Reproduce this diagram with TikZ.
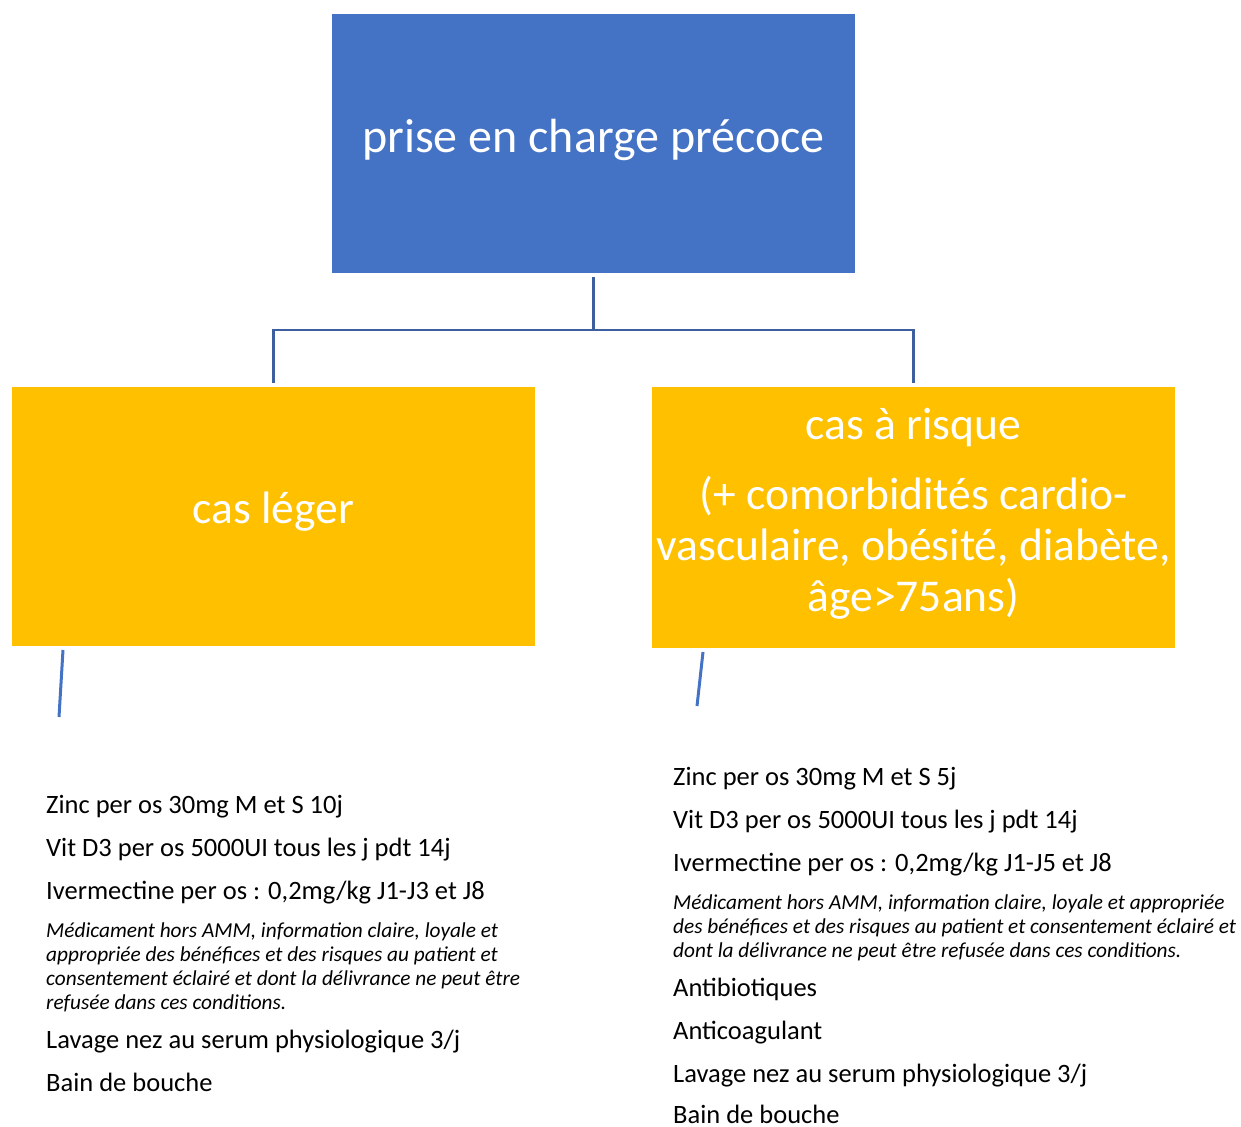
\documentclass[tikz,border=0pt]{standalone}
\usepackage{fontspec}
\setmainfont{Carlito}
\definecolor{boxblue}{HTML}{4472C4}
\definecolor{boxorange}{HTML}{FFC000}
\definecolor{connblue}{HTML}{3E5F9F}
\begin{document}
\begin{tikzpicture}[x=1pt,y=-1pt,
  box/.style={draw=none, inner sep=0pt, align=center, text=white},
  conn/.style={draw=connblue, line width=2.5pt},
  stub/.style={draw=boxblue, line width=3pt},
  item/.style={anchor=base west, inner sep=0pt, font=\fontsize{26.5}{32}\selectfont},
  note/.style={anchor=base west, inner sep=0pt, font=\fontsize{21.3}{24}\selectfont\itshape}]
\useasboundingbox (0,0) rectangle (1241,1126);
\node[box, fill=boxblue, minimum width=523pt, minimum height=259pt] (top) at (593.5,143.5) {};
\node[text=white, inner sep=0pt, anchor=base, font=\fontsize{48}{56}\selectfont] (toptext) at (top.center |- 0,153) {prise en charge précoce};
\node[box, fill=boxorange, minimum width=523pt, minimum height=259pt, font=\fontsize{45.5}{52}\selectfont] (left) at (273.5,516.5) {};
\node[text=white, inner sep=0pt, anchor=base, font=\fontsize{45.5}{52}\selectfont] (lefttext) at (left.center |- 0,523) {cas léger};
\node[box, fill=boxorange, minimum width=523pt, minimum height=261pt] (right) at (913.5,517.5) {};
\node[text=white, inner sep=0pt, align=center, anchor=center, font=\fontsize{45.5}{51}\selectfont] (righttext) at (913.5,514) {cas à risque\\[19pt](+ comorbidités cardio-\\vasculaire, obésité, diabète,\\âge>75ans)};
\draw[conn, shorten <=4pt, shorten >=4pt] (top.south) -- ++(0,57) -| (left.north);
\draw[conn, shorten >=4pt] (top.south) ++(0,57) -| (right.north);
\coordinate (ls1) at (63,650);
\coordinate (ls2) at (59,717);
\coordinate (rs1) at (703,652);
\coordinate (rs2) at (697,706);
\draw[stub] (ls1) -- (ls2);
\draw[stub] (rs1) -- (rs2);
% left list
\node[item] (l1) at (46,813) {Zinc per os 30mg M et S 10j};
\node[item] (l2) at (46,856) {Vit D3 per os 5000UI tous les j pdt 14j};
\node[item] (l3) at (46,899) {Ivermectine per os : 0,2mg/kg J1-J3 et J8};
\node[note] (l4) at (46,937) {Médicament hors AMM, information claire, loyale et};
\node[note] (l5) at (46,961) {appropriée des bénéfices et des risques au patient et};
\node[note] (l6) at (46,985) {consentement éclairé et dont la délivrance ne peut être};
\node[note] (l7) at (46,1009) {refusée dans ces conditions.};
\node[item] (l8) at (46,1048) {Lavage nez au serum physiologique 3/j};
\node[item] (l9) at (46,1091) {Bain de bouche};
% right list
\node[item] (r1) at (673,785) {Zinc per os 30mg M et S 5j};
\node[item] (r2) at (673,828) {Vit D3 per os 5000UI tous les j pdt 14j};
\node[item] (r3) at (673,871) {Ivermectine per os : 0,2mg/kg J1-J5 et J8};
\node[note] (r4) at (673,909) {Médicament hors AMM, information claire, loyale et appropriée};
\node[note] (r5) at (673,933) {des bénéfices et des risques au patient et consentement éclairé et};
\node[note] (r6) at (673,957) {dont la délivrance ne peut être refusée dans ces conditions.};
\node[item] (r7) at (673,996) {Antibiotiques};
\node[item] (r8) at (673,1039) {Anticoagulant};
\node[item] (r9) at (673,1082) {Lavage nez au serum physiologique 3/j};
\node[item] (r10) at (673,1123) {Bain de bouche};
\end{tikzpicture}
\end{document}
